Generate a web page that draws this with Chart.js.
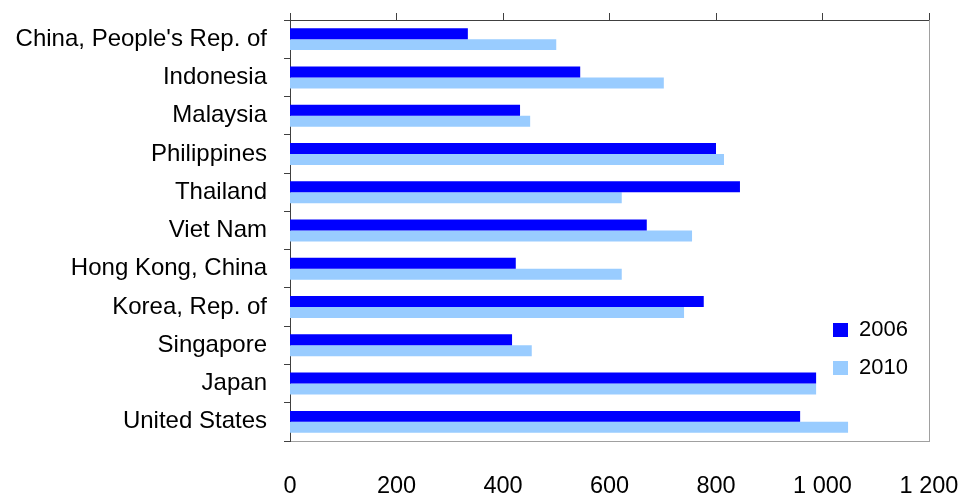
<!DOCTYPE html>
<html>
<head>
<meta charset="utf-8">
<script src="https://cdn.jsdelivr.net/npm/chart.js@4"></script>
<style>
html,body{margin:0;padding:0;background:#fff}
#wrap{width:961px;height:493px;position:relative}
</style>
</head>
<body>
<div id="wrap"><canvas id="c"></canvas></div>
<script>
const categories = ["China, People's Rep. of","Indonesia","Malaysia","Philippines","Thailand","Viet Nam","Hong Kong, China","Korea, Rep. of","Singapore","Japan","United States"];
const series2006 = [334,545,432,800,845,670,424,777,417,988,958];
const series2010 = [500,702,451,815,623,755,623,740,454,988,1048];
const seriesNames = ["2006","2010"];
const xMin = 0, xMax = 1200, xStep = 200;

const FONT = '"Liberation Sans", Arial, sans-serif';
const fmt = v => String(v).replace(/\B(?=(\d{3})+(?!\d))/g, ' ');
const noPad = s => { s.paddingLeft = 0; s.paddingRight = 0; s.paddingTop = 0; s.paddingBottom = 0; };

const legendPlacer = {
  id: 'legendPlacer',
  afterLayout(chart) {
    const lg = chart.legend;
    if (!lg) return;
    lg.left = 817; lg.top = 303;
    lg.width = 140; lg.height = 160;
    lg.right = lg.left + lg.width; lg.bottom = lg.top + lg.height;
  }
};

new Chart(document.getElementById('c'), {
  type: 'bar',
  data: {
    labels: categories,
    datasets: [
      {label: seriesNames[0], data: series2006, backgroundColor: '#0000FF', borderWidth: 0, barPercentage: 1, categoryPercentage: 0.574},
      {label: seriesNames[1], data: series2010, backgroundColor: '#99CCFF', borderWidth: 0, barPercentage: 1, categoryPercentage: 0.574}
    ]
  },
  options: {
    indexAxis: 'y',
    responsive: true,
    maintainAspectRatio: false,
    animation: false,
    layout: {padding: 0},
    plugins: {
      tooltip: {enabled: false},
      legend: {
        position: 'chartArea',
        align: 'start',
        labels: {boxWidth: 15, boxHeight: 14, padding: 16, color: '#000', font: {family: FONT, size: 22}}
      }
    },
    scales: {
      x: {
        type: 'linear', position: 'bottom', min: xMin, max: xMax,
        ticks: {stepSize: xStep, padding: 23, color: '#000', font: {family: FONT, size: 23.5}, callback: v => fmt(v), maxRotation: 0, autoSkip: false},
        grid: {display: false},
        border: {display: true, color: '#a0a0a0', width: 1},
        afterFit(s) { s.height = 52; noPad(s); }
      },
      x2: {
        type: 'linear', axis: 'x', position: 'top', min: xMin, max: xMax,
        ticks: {stepSize: xStep, display: false},
        grid: {drawOnChartArea: false, drawTicks: true, tickLength: 7, color: '#404040'},
        border: {display: true, color: '#404040', width: 1},
        afterFit(s) { s.height = 20; noPad(s); }
      },
      y: {
        type: 'category', position: 'left', offset: true,
        grid: {offset: true, drawOnChartArea: false, tickLength: 6, color: '#404040'},
        border: {display: true, color: '#404040', width: 1},
        ticks: {padding: 17, color: '#000', autoSkip: false, font: {family: FONT, size: 24}},
        afterFit(s) { s.width = 290; noPad(s); }
      },
      y2: {
        type: 'linear', axis: 'y', position: 'right',
        ticks: {display: false},
        grid: {display: false},
        border: {display: true, color: '#a0a0a0', width: 1},
        afterFit(s) { s.width = 32; noPad(s); }
      }
    }
  },
  plugins: [legendPlacer]
});
</script>
</body>
</html>
